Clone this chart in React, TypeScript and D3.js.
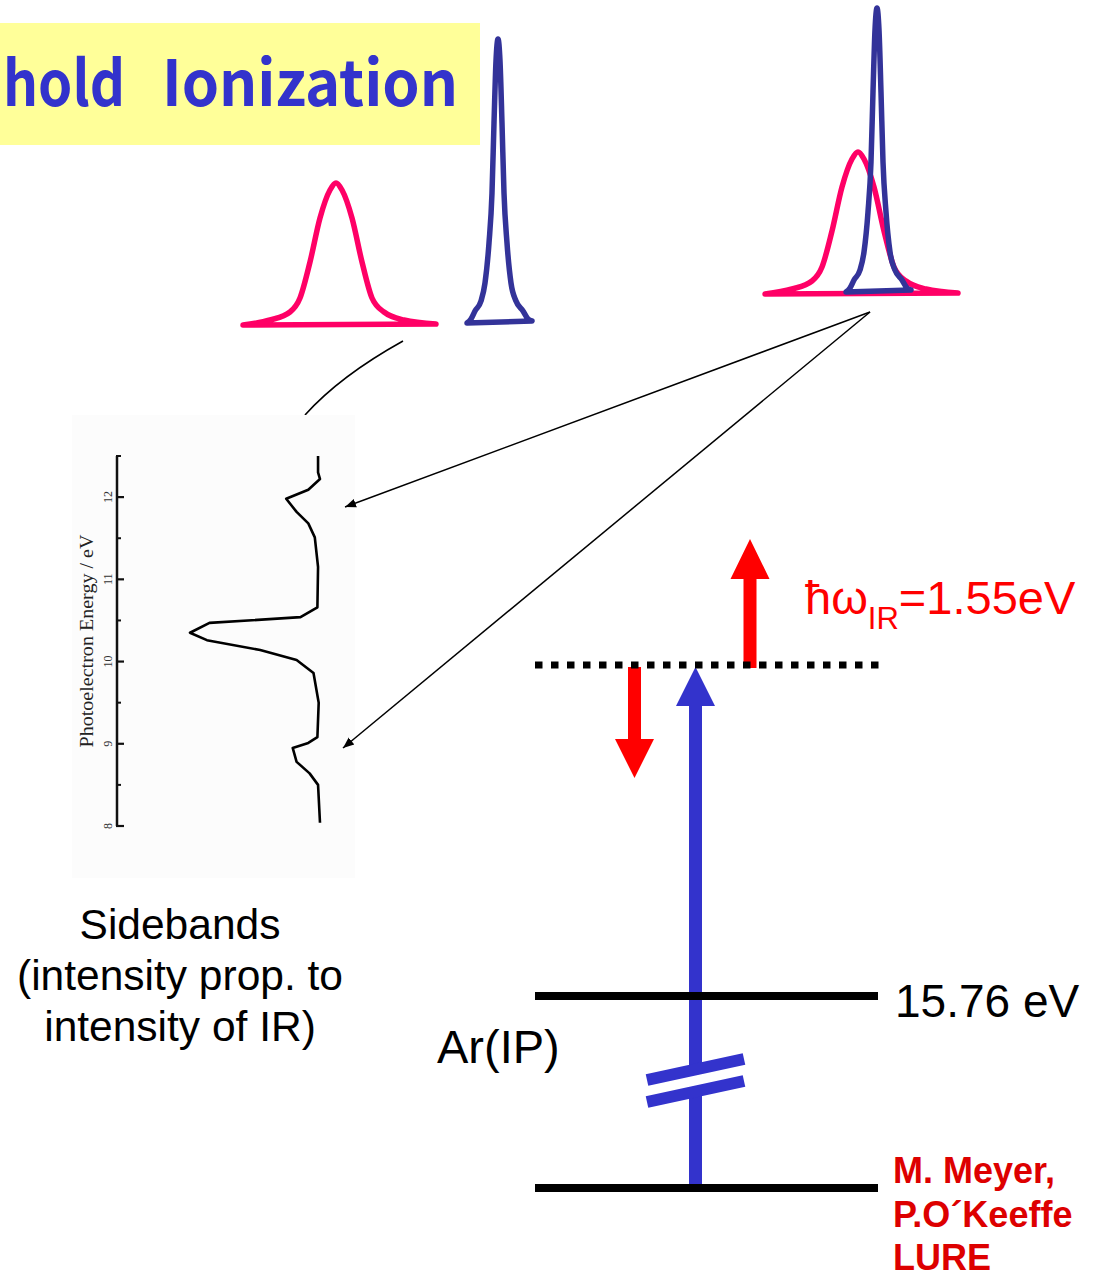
import React, { useEffect, useRef } from "react";
import * as d3 from "d3";

// pulse outlines: [offset from centre, height above baseline]
const pinkPulse: [number, number][] = [
  [-93, 0], [-66, 5], [-46, 13], [-36, 27], [-26, 63], [-16, 107], [-6, 135], [0, 142],
  [6, 135], [16, 107], [26, 63], [36, 27], [48, 13], [68, 5], [100, 1],
];
const bluePulse: [number, number][] = [
  [-31, 0], [-27, 4], [-23, 12], [-17, 22], [-13, 40], [-9, 80], [-6, 130], [-4, 200],
  [-2, 262], [0, 284], [2, 262], [4, 200], [6, 130], [9, 80], [13, 40], [18, 22],
  [25, 12], [30, 4], [34, 2],
];

// inset: photoelectron spectrum
const sidebandEnergy = [
  12.5, 12.3, 12.22, 12.09, 11.98, 11.82, 11.68, 11.51, 11.15, 10.66, 10.54, 10.47, 10.35,
  10.26, 10.14, 10.02, 9.86, 9.5, 9.08, 9.01, 8.95, 8.78, 8.64, 8.5, 8.04,
];
const sidebandSignal = [
  0.015, 0.015, 0, 0.09, 0.26, 0.18, 0.09, 0.04, 0.015, 0.02, 0.15, 0.85, 1.0,
  0.87, 0.46, 0.18, 0.05, 0.01, 0.02, 0.09, 0.21, 0.18, 0.08, 0.015, 0,
];
const insetMajorTicks = [8, 9, 10, 11, 12];
const insetMinorTicks = [8.5, 9.5, 10.5, 11.5, 12.5];

// energy levels (eV)
const levelEnergies = [0, 15.76];
const levelLabels = ["", "15.76 eV"];
const harmonicEnergy = 23.25;

const titleWords = ["hold", "Ionization"];
const sidebandText = ["Sidebands", "(intensity prop. to", "intensity of IR)"];
const creditLines = ["M. Meyer,", "P.O\u00b4Keeffe", "LURE"];

const W = 1102, H = 1276;
const BLUE = "#3333cc", NAVY = "#333399", PINK = "#ff0066", RED = "#ff0000";

function arrowPath(x: number, yFrom: number, yTip: number, sw: number, hw: number, hl: number) {
  const dir = yTip < yFrom ? 1 : -1; // 1: pointing up
  const yBase = yTip + dir * hl;
  return `M${x - sw / 2},${yFrom} L${x - sw / 2},${yBase} L${x - hw / 2},${yBase} L${x},${yTip} L${x + hw / 2},${yBase} L${x + sw / 2},${yBase} L${x + sw / 2},${yFrom} Z`;
}

export default function App() {
  const ref = useRef<SVGSVGElement>(null);

  useEffect(() => {
    const svg = d3.select(ref.current);
    svg.selectAll("*").remove();

    const defs = svg.append("defs");
    defs.append("marker")
      .attr("id", "ah")
      .attr("viewBox", "0 0 10 10")
      .attr("refX", 10).attr("refY", 5)
      .attr("markerWidth", 11).attr("markerHeight", 11)
      .attr("markerUnits", "userSpaceOnUse")
      .attr("orient", "auto")
      .append("path").attr("d", "M0,1 L10,5 L0,9 Z").attr("fill", "#000");

    // title banner (slide title is cut at the left edge)
    svg.append("rect").attr("x", 0).attr("y", 23).attr("width", 480).attr("height", 122).attr("fill", "#ffff99");
    const title = svg.append("text")
      .attr("y", 106)
      .attr("font-family", "'Noto Sans CJK JP', 'DejaVu Sans', sans-serif")
      .attr("font-weight", 700).attr("font-size", 63)
      .attr("fill", BLUE);
    title.append("tspan").attr("x", 3).attr("textLength", 122).attr("lengthAdjust", "spacingAndGlyphs").text(titleWords[0]);
    title.append("tspan").attr("x", 162).attr("textLength", 296).attr("lengthAdjust", "spacingAndGlyphs").text(titleWords[1]);

    // pulses
    const pulseLine = d3.line<[number, number]>()
      .x(d => d[0]).y(d => -d[1])
      .curve(d3.curveMonotoneX);
    const drawPulse = (prof: [number, number][], cx: number, by: number, color: string) => {
      svg.append("path")
        .attr("transform", `translate(${cx},${by})`)
        .attr("d", pulseLine(prof) + "Z")
        .attr("fill", "none").attr("stroke", color)
        .attr("stroke-width", 5.5).attr("stroke-linejoin", "round").attr("stroke-linecap", "round");
    };
    drawPulse(pinkPulse, 336, 325, PINK);
    drawPulse(bluePulse, 498, 323, NAVY);
    drawPulse(pinkPulse, 858, 294, PINK);
    drawPulse(bluePulse, 877, 292, NAVY);

    // thin connector curve
    svg.append("path").attr("d", "M305,415 Q340,376 403,341")
      .attr("fill", "none").attr("stroke", "#000").attr("stroke-width", 1.6);

    // inset spectrum
    svg.append("rect").attr("x", 72).attr("y", 415).attr("width", 283).attr("height", 463).attr("fill", "#fcfcfc");
    const yE = d3.scaleLinear().domain([8, 12.5]).range([826, 456]);
    const xS = d3.scaleLinear().domain([0, 1]).range([320, 190]);
    const inset = svg.append("g");
    inset.append("line").attr("x1", 117).attr("x2", 117).attr("y1", yE(8)).attr("y2", yE(12.5))
      .attr("stroke", "#111").attr("stroke-width", 2.5);
    insetMajorTicks.forEach(v => {
      inset.append("line").attr("x1", 116).attr("x2", 124).attr("y1", yE(v)).attr("y2", yE(v))
        .attr("stroke", "#111").attr("stroke-width", 2.2);
      inset.append("text")
        .attr("transform", `translate(112,${yE(v)}) rotate(-90)`)
        .attr("text-anchor", "middle")
        .attr("font-family", "'Liberation Serif', serif").attr("font-size", 12).attr("fill", "#333")
        .text(v);
    });
    insetMinorTicks.forEach(v => {
      inset.append("line").attr("x1", 116).attr("x2", 121).attr("y1", yE(v)).attr("y2", yE(v))
        .attr("stroke", "#111").attr("stroke-width", 2);
    });
    inset.append("text")
      .attr("transform", `translate(93,${641}) rotate(-90)`)
      .attr("text-anchor", "middle")
      .attr("font-family", "'Liberation Serif', serif").attr("font-size", 18.5).attr("fill", "#222")
      .attr("textLength", 213).attr("lengthAdjust", "spacingAndGlyphs")
      .text("Photoelectron Energy / eV");
    const spec = d3.line<number>()
      .x((d, i) => xS(sidebandSignal[i]))
      .y(d => yE(d));
    inset.append("path").attr("d", spec(sidebandEnergy))
      .attr("fill", "none").attr("stroke", "#000").attr("stroke-width", 2.6).attr("stroke-linejoin", "round");

    // arrows from combined pulse to sidebands
    [[345, 507], [343, 748]].forEach(([x, y]) => {
      svg.append("line").attr("x1", 870).attr("y1", 312).attr("x2", x).attr("y2", y)
        .attr("stroke", "#000").attr("stroke-width", 1.5).attr("marker-end", "url(#ah)");
    });

    // sideband caption
    svg.append("text")
      .attr("text-anchor", "middle")
      .attr("font-family", "'Liberation Sans', Arial, sans-serif").attr("font-size", 42.5)
      .selectAll("tspan").data(sidebandText).join("tspan")
      .attr("x", 180).attr("y", (d, i) => 939 + i * 51)
      .text(d => d);

    // energy level diagram
    const yL = d3.scaleLinear().domain([0, levelEnergies[1], harmonicEnergy]).range([1188, 996, 665]);
    const x0 = 535, x1 = 878, xArrow = 695.5;

    // XUV harmonic arrow
    svg.append("path").attr("d", arrowPath(xArrow, yL(0), yL(harmonicEnergy) + 2, 13, 39, 39)).attr("fill", BLUE);
    // break marks
    svg.append("line").attr("x1", 647).attr("y1", 1091).attr("x2", 744).attr("y2", 1070)
      .attr("stroke", "#fff").attr("stroke-width", 11);
    [[1080, 1059], [1102, 1081]].forEach(([ya, yb]) => {
      svg.append("line").attr("x1", 647).attr("y1", ya).attr("x2", 744).attr("y2", yb)
        .attr("stroke", BLUE).attr("stroke-width", 12);
    });

    // IR photon arrows
    const yH = yL(harmonicEnergy);
    svg.append("path").attr("d", arrowPath(750, yH + 3, yH - 126, 13, 39, 40)).attr("fill", RED);
    svg.append("path").attr("d", arrowPath(634.5, yH + 2, yH + 113, 13, 39, 39)).attr("fill", RED);

    // levels
    levelEnergies.forEach((e, i) => {
      svg.append("line").attr("x1", x0).attr("x2", x1).attr("y1", yL(e)).attr("y2", yL(e))
        .attr("stroke", "#000").attr("stroke-width", 8);
      if (levelLabels[i]) {
        svg.append("text").attr("x", 895).attr("y", yL(e) + 21)
          .attr("font-family", "'Liberation Sans', Arial, sans-serif").attr("font-size", 46)
          .text(levelLabels[i]);
      }
    });
    svg.append("line").attr("x1", x0).attr("x2", 880).attr("y1", yH).attr("y2", yH)
      .attr("stroke", "#000").attr("stroke-width", 7).attr("stroke-dasharray", "7.5 8.5");

    svg.append("text").attr("x", 437).attr("y", 1063)
      .attr("font-family", "'Liberation Sans', Arial, sans-serif").attr("font-size", 47)
      .text("Ar(IP)");

    // photon energy label
    const lab = svg.append("text").attr("x", 805).attr("y", 614)
      .attr("font-family", "'Liberation Sans', Arial, sans-serif").attr("font-size", 47).attr("fill", RED);
    lab.append("tspan").text("\u0127\u03c9");
    lab.append("tspan").attr("font-size", 31).attr("dy", 15).text("IR");
    lab.append("tspan").attr("dy", -15).text("=1.55eV");

    // credits
    svg.append("text")
      .attr("font-family", "'Liberation Sans', Arial, sans-serif").attr("font-weight", 700)
      .attr("font-size", 36).attr("fill", "#dd0000")
      .selectAll("tspan").data(creditLines).join("tspan")
      .attr("x", 893).attr("y", (d, i) => 1183 + i * 43.5)
      .text(d => d);
  }, []);

  return (
    <svg ref={ref} width={W} height={H}
      style={{ position: "absolute", left: 0, top: 0, background: "#fff", display: "block" }} />
  );
}
